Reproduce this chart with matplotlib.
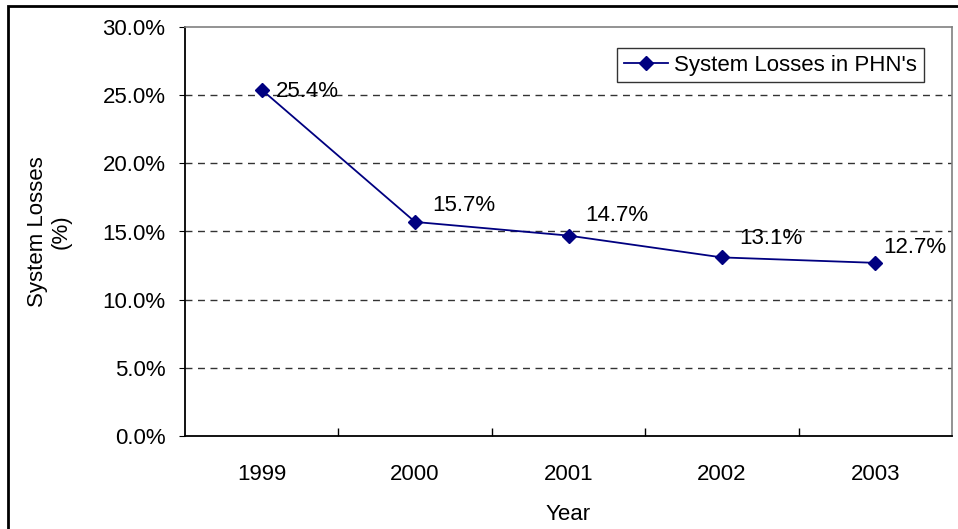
import matplotlib
matplotlib.use("Agg")
import matplotlib.pyplot as plt
from matplotlib.patches import Rectangle
from matplotlib.ticker import FuncFormatter, MultipleLocator

plt.rcParams["font.family"] = ["Liberation Sans", "DejaVu Sans"]

years = ["1999", "2000", "2001", "2002", "2003"]
losses = [25.4, 15.7, 14.7, 13.1, 12.7]
label_offsets = [(14, -2), (17, 16), (17, 20), (17, 19), (8, 15)]

W, H = 958, 529
FS = 16
fig = plt.figure(figsize=(W / 100, H / 100), dpi=100)
fig.patch.set_facecolor("white")

# outer chart frame
fig.patches.append(Rectangle((8 / W, -0.01), 1.0, 1 - 6 / H + 0.01,
                             transform=fig.transFigure, fill=False,
                             edgecolor="black", linewidth=2.0, zorder=0))

ax = fig.add_axes([185 / W, 1 - 436 / H, (952 - 185) / W, (436 - 27) / H])
x = list(range(len(years)))
navy = "#000080"
ax.plot(x, losses, color=navy, linewidth=1.3, marker="D", markersize=7,
        markerfacecolor=navy, markeredgecolor=navy, label="System Losses in PHN's",
        zorder=3)

for xi, v, (dx, dy) in zip(x, losses, label_offsets):
    ax.annotate(f"{v:.1f}%", (xi, v), xytext=(dx, dy), textcoords="offset pixels",
                ha="left", va="center", fontsize=FS, color="black", zorder=4)

ax.set_xlim(-0.5, len(years) - 0.5)
ax.set_ylim(0, 30)
ax.yaxis.set_major_locator(MultipleLocator(5))
ax.yaxis.set_major_formatter(FuncFormatter(lambda v, p: f"{v:.1f}%"))
ax.set_xticks(x)
ax.set_xticklabels(years)
ax.set_xticks([i + 0.5 for i in x[:-1]], minor=True)
ax.tick_params(axis="x", which="major", length=0, pad=20, labelsize=FS)
ax.tick_params(axis="x", which="minor", direction="in", length=6, width=1)
ax.tick_params(axis="y", which="major", direction="out", length=4, pad=10, labelsize=FS)

for v in [5, 10, 15, 20, 25]:
    ax.axhline(v, color="#333333", linestyle=(0, (5, 4)), linewidth=1.0, zorder=1)

for side in ["left", "bottom"]:
    ax.spines[side].set_color("black")
    ax.spines[side].set_linewidth(1.3)
for side in ["top", "right"]:
    ax.spines[side].set_color("#808080")
    ax.spines[side].set_linewidth(1.2)

ax.set_xlabel("Year", fontsize=FS, labelpad=14)
ax.set_ylabel("System Losses\n(%)", fontsize=FS, labelpad=22, linespacing=1.15)

leg = ax.legend(loc="upper right", bbox_to_anchor=(924 / W, 1 - 48 / H),
                bbox_transform=fig.transFigure, fontsize=FS, frameon=True,
                fancybox=False, borderpad=0.3, handlelength=2.0,
                handletextpad=0.27, borderaxespad=0)
leg.get_frame().set_edgecolor("black")
leg.get_frame().set_linewidth(1.0)

fig.savefig("out.png", dpi=100)
